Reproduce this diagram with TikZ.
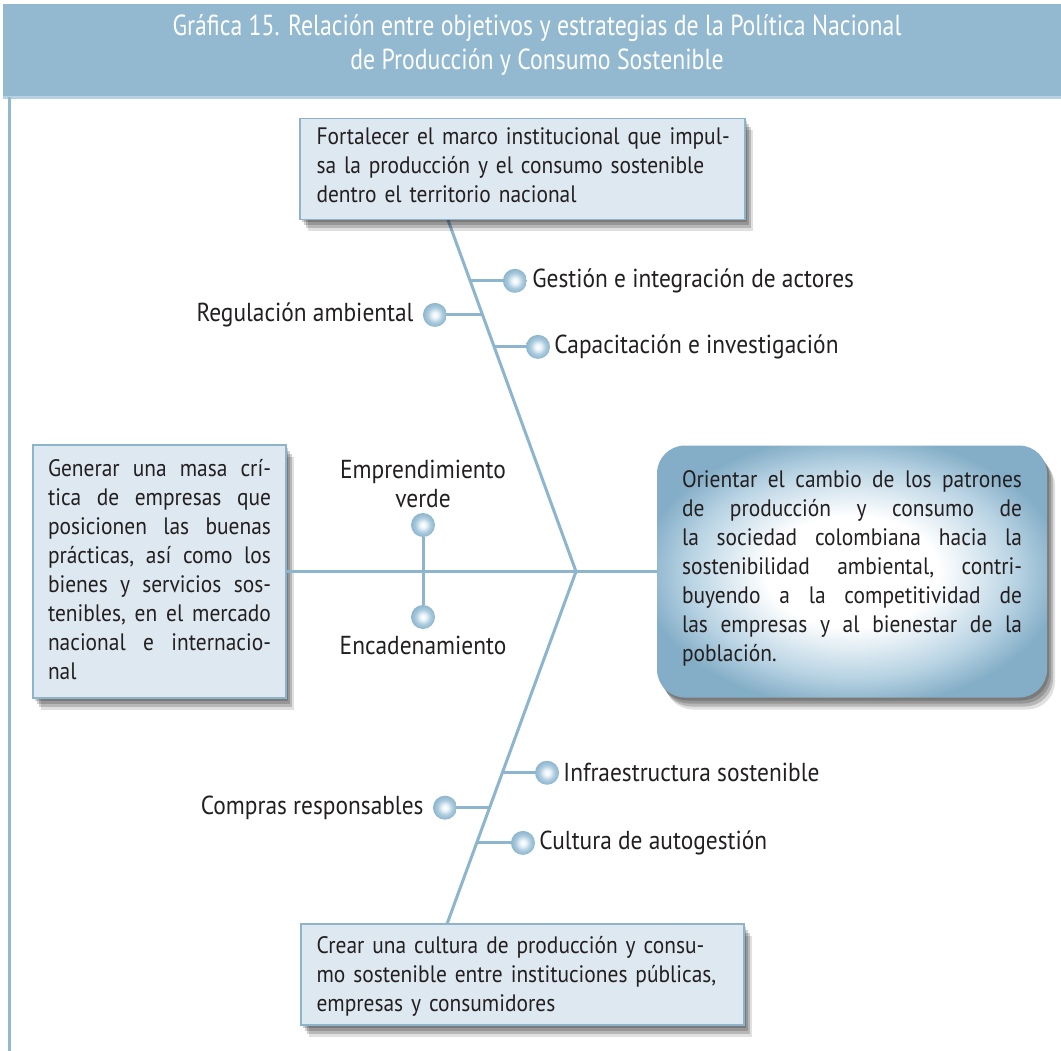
\documentclass[tikz,border=0pt]{standalone}
\usepackage{fontspec}
\setmainfont[FakeStretch=0.9]{PT Sans}
\newfontfamily\titlefont[FakeStretch=0.82]{PT Sans}
\usetikzlibrary{shadows,calc}
\definecolor{band}{HTML}{93B9D1}
\definecolor{bandlight}{HTML}{B7D1E1}
\definecolor{linec}{HTML}{8DB6CE}
\definecolor{boxfill}{HTML}{DEE8F0}
\definecolor{boxdraw}{HTML}{8EB4CB}
\definecolor{deep}{HTML}{84AEC7}
\definecolor{midblue}{HTML}{B8D3E3}
\definecolor{ballc}{HTML}{A9CADD}
\definecolor{ballhi}{HTML}{EEF5F9}
\definecolor{balledge}{HTML}{8DB5CD}
\definecolor{txtc}{HTML}{231F20}
\pgfdeclareradialshading{rboxshade}{\pgfpoint{0bp}{0bp}}{color(0bp)=(white); color(11bp)=(white); color(21bp)=(midblue); color(27bp)=(deep); color(50bp)=(deep)}
\pgfdeclareradialshading{ballshade}{\pgfpoint{0bp}{0bp}}{color(0bp)=(white); color(6bp)=(ballhi); color(16bp)=(ballc); color(25bp)=(balledge); color(50bp)=(balledge)}
\newlength\jw
\newcommand\jline[1]{\hbox to\jw{\frenchspacing\spaceskip=0.26em plus 1fil\relax #1}}
\newcommand\lline[1]{\hbox{#1}}
\begin{document}
\begin{tikzpicture}[x=1pt,y=-1pt,
  every node/.style={inner sep=0pt},
  txt/.style={font=\fontsize{23.8}{29}\selectfont, text=txtc, align=left},
  shadowed/.style={
    general shadow={fill=black,opacity=0.18,shadow xshift=2pt,shadow yshift=-3pt},
    general shadow={fill=black,opacity=0.18,shadow xshift=4pt,shadow yshift=-6pt},
    general shadow={fill=black,opacity=0.18,shadow xshift=6pt,shadow yshift=-9pt},
    general shadow={fill=black,opacity=0.12,shadow xshift=8pt,shadow yshift=-12pt}},
  objbox/.style={shadowed, draw=boxdraw, line width=1.2pt, fill=boxfill},
  goalbox/.style={shadowed, rounded corners=28pt, shading=rboxshade},
  spine/.style={draw=linec, line width=3pt},
  ball/.style={circle, minimum size=24pt, shading=ballshade},
  lbl/.style={font=\fontsize{26}{29}\selectfont, text=txtc}]
\useasboundingbox (0,0) rectangle (1061,1051);
\fill[white] (0,0) rectangle (1061,1051);
% header
\fill[band] (3,4) rectangle (1061,97);
\fill[bandlight] (3,96) rectangle (1061,99);
\fill[band] (8,97) rectangle (11,1051);
\node[font=\titlefont\fontsize{29}{34}\selectfont, text=white, align=center] (title) at (537,45)
  {Gráfica 15. Relación entre objetivos y estrategias de la Política Nacional\\de Producción y Consumo Sostenible};

% spine coordinates
\coordinate (apex) at (576,571.5);
\coordinate (ts) at (448,220);
\coordinate (bs) at (447,924);
\draw[spine] (ts) -- (apex) -- (bs);

% boxes
\node[objbox, minimum width=445pt, minimum height=101pt] (top) at (522.5,169) {};
\node[txt, text width=412pt] (toptext) at ([yshift=10pt]top.center)
  {\par\lline{Fortalecer el marco institucional que impul-}\lline{sa la producción y el consumo sostenible}\lline{dentro el territorio nacional}};
\node[objbox, minimum width=253pt, minimum height=253pt] (left) at (159.5,571.5) {};
\node[txt, text width=223pt] (lefttext) at ([yshift=8pt]left.center)
  {\par\setlength\jw{223pt}\jline{Generar una masa crí-}\jline{tica de empresas que}\jline{posicionen las buenas}\jline{prácticas, así como los}\jline{bienes y servicios sos-}\jline{tenibles, en el mercado}\jline{nacional e internacio-}\lline{nal}};
\node[goalbox, minimum width=390pt, minimum height=252pt] (goal) at (852,571.5) {};
\node[txt, text width=340pt] (goaltext) at ([yshift=9pt]goal.center)
  {\par\setlength\jw{340pt}\jline{Orientar el cambio de los patrones}\jline{de producción y consumo de}\jline{la sociedad colombiana hacia la}\jline{sostenibilidad ambiental, contri-}\jline{buyendo a la competitividad de}\jline{las empresas y al bienestar de la}\lline{población.}};
\node[objbox, minimum width=443pt, minimum height=101pt] (bottom) at (522.5,974.5) {};
\node[txt, text width=412pt] (bottomtext) at ([yshift=4pt]bottom.center)
  {\par\lline{Crear una cultura de producción y consu-}\lline{mo sostenible entre instituciones públicas,}\lline{empresas y consumidores}};

\draw[spine] (left.east) -- (goal.west);

% upper branches
\coordinate (g1) at ($(ts)!0.173!(apex)$);
\coordinate (r1) at ($(ts)!0.270!(apex)$);
\coordinate (c1) at ($(ts)!0.361!(apex)$);
\draw[spine] (g1) -- ++(44.8,0) coordinate (g2);
\draw[spine] (r1) -- ++(-47.6,0) coordinate (r2);
\draw[spine] (c1) -- ++(43.8,0) coordinate (c2);
\node[ball] (gb) at (g2) {};
\node[ball] (rb) at (r2) {};
\node[ball] (cb) at (c2) {};
\node[lbl, anchor=west] (gl) at ([xshift=5pt]gb.east) {Gestión e integración de actores};
\node[lbl, anchor=east] (rl) at ([xshift=-9pt]rb.west) {Regulación ambiental};
\node[lbl, anchor=west] (cl) at ([xshift=4pt]cb.east) {Capacitación e investigación};

% lower branches
\coordinate (i1) at ($(apex)!0.571!(bs)$);
\coordinate (p1) at ($(apex)!0.670!(bs)$);
\coordinate (u1) at ($(apex)!0.770!(bs)$);
\draw[spine] (i1) -- ++(44.7,0) coordinate (i2);
\draw[spine] (p1) -- ++(-44.6,0) coordinate (p2);
\draw[spine] (u1) -- ++(46.3,0) coordinate (u2);
\node[ball] (ib) at (i2) {};
\node[ball] (pb) at (p2) {};
\node[ball] (ub) at (u2) {};
\node[lbl, anchor=west] (il) at ([xshift=4pt]ib.east) {Infraestructura sostenible};
\node[lbl, anchor=east] (pl) at ([xshift=-9pt]pb.west) {Compras responsables};
\node[lbl, anchor=west] (ul) at ([xshift=4pt]ub.east) {Cultura de autogestión};

% middle branch
\node[ball] (eb) at (423,525) {};
\node[ball] (nb) at (423,617) {};
\draw[spine] (eb) -- (nb);
\node[lbl, align=center] (el) at (423,484) {Emprendimiento\\verde};
\node[lbl] (nl) at (423,645) {Encadenamiento};
\end{tikzpicture}
\end{document}
